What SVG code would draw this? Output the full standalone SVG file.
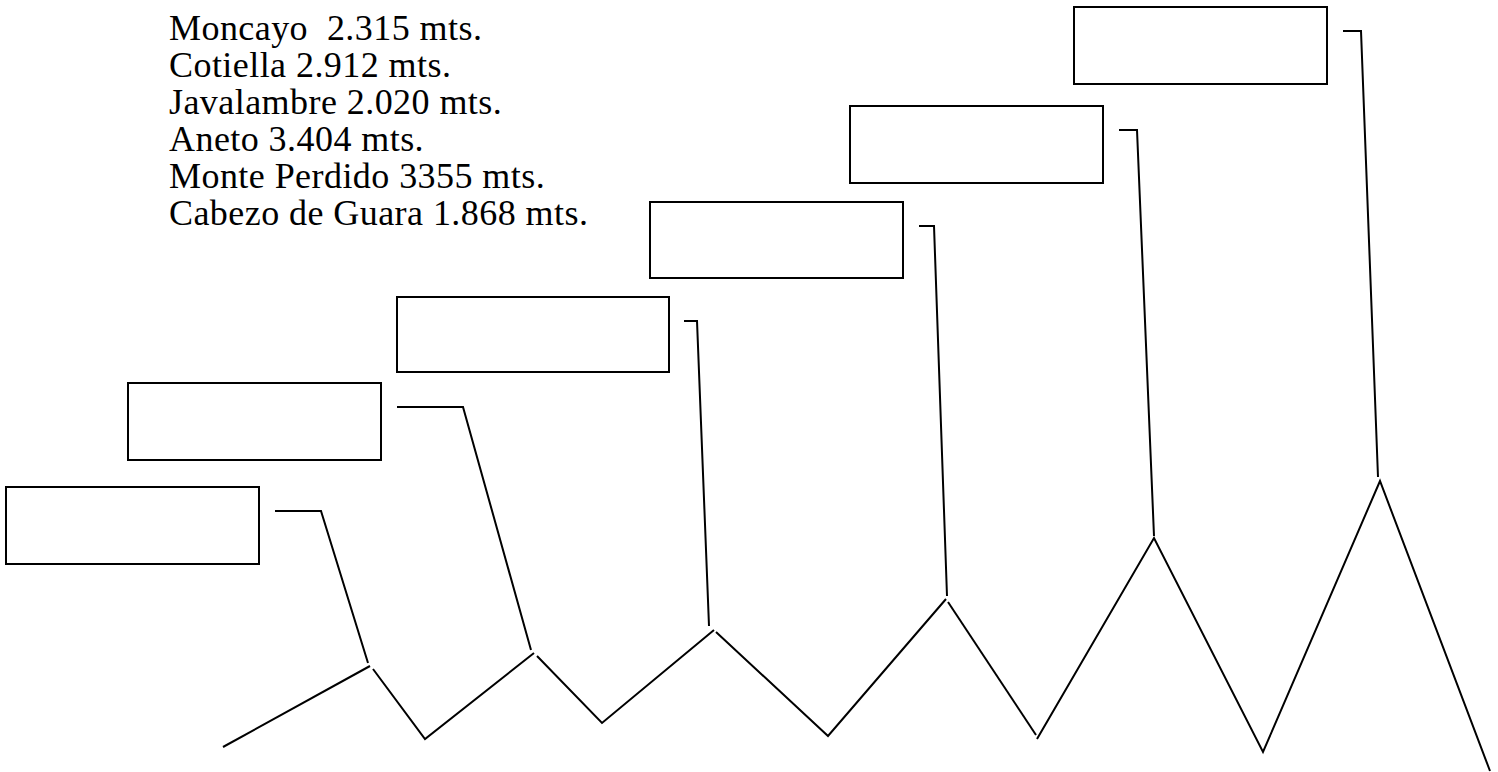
<svg xmlns="http://www.w3.org/2000/svg" width="1498" height="772" viewBox="0 0 1498 772">
<style>
.box{fill:#fff;stroke:#000;stroke-width:2}
.ln{fill:none;stroke:#000;stroke-width:2;stroke-linejoin:miter}
.t{font-family:"Liberation Serif","Times New Roman",serif;font-size:36px;letter-spacing:0.44px;fill:#000;white-space:pre}
</style>
<rect width="1498" height="772" fill="#fff"/>
<g id="legend">
<text class="t" x="169" y="39.5" xml:space="preserve">Moncayo  2.315 mts.</text>
<text class="t" x="169" y="76.5">Cotiella 2.912 mts.</text>
<text class="t" x="169" y="113.5">Javalambre 2.020 mts.</text>
<text class="t" x="169" y="150.5">Aneto 3.404 mts.</text>
<text class="t" x="169" y="187.5">Monte Perdido 3355 mts.</text>
<text class="t" x="169" y="224.5">Cabezo de Guara 1.868 mts.</text>
</g>
<g id="box1"><rect class="box" x="6" y="487" width="253" height="77"/></g>
<g id="box2"><rect class="box" x="128" y="383" width="253" height="77"/></g>
<g id="box3"><rect class="box" x="397" y="297" width="272" height="75"/></g>
<g id="box4"><rect class="box" x="650" y="202" width="253" height="76"/></g>
<g id="box5"><rect class="box" x="850" y="106" width="253" height="77"/></g>
<g id="box6"><rect class="box" x="1074" y="7" width="253" height="77"/></g>
<g id="connectors">
<polyline class="ln" points="275,511 321,511 368,663"/>
<polyline class="ln" points="397,407 463,407 531,650"/>
<polyline class="ln" points="684,321 697,321 709,626"/>
<polyline class="ln" points="919,226 934,226 947,596"/>
<polyline class="ln" points="1119,130 1137,130 1154,536"/>
<polyline class="ln" points="1343,31 1361,31 1378,477"/>
</g>
<g id="mountains">
<line class="ln" x1="223" y1="747" x2="370" y2="666"/>
<polyline class="ln" points="373,669 425,739 534,653"/>
<polyline class="ln" points="537,656 602,723 714,630"/>
<polyline class="ln" points="716,632 828,736 946,599"/>
<line class="ln" x1="948" y1="602" x2="1036" y2="735"/>
<polyline class="ln" points="1037,739 1154,538 1263,752 1380,481 1490,771"/>
</g>
</svg>
